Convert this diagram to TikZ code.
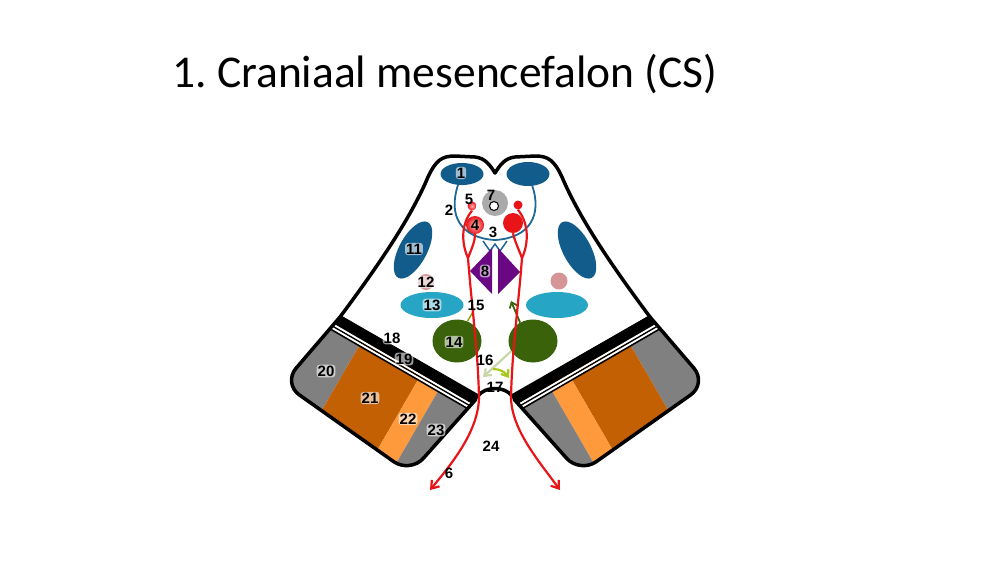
\documentclass[tikz,border=0pt]{standalone}
\usepackage{fontspec}
\setmainfont{Carlito}
\newfontfamily\labelfont{Liberation Sans}
\usetikzlibrary{shapes.geometric}
\usetikzlibrary{arrows.meta}
\definecolor{nucblue}{RGB}{18,92,140}
\definecolor{tractblue}{RGB}{30,105,150}
\definecolor{nuccyan}{RGB}{38,166,196}
\definecolor{nucpink}{RGB}{214,150,152}
\definecolor{nucgreen}{RGB}{58,98,10}
\definecolor{nucpurple}{RGB}{106,8,132}
\definecolor{nucgray}{RGB}{170,170,170}
\definecolor{tractred}{RGB}{232,20,24}
\definecolor{pedgray}{RGB}{128,128,128}
\definecolor{pedorange}{RGB}{196,96,4}
\definecolor{pedlight}{RGB}{255,154,60}
\definecolor{palegreen}{RGB}{200,214,170}
\definecolor{limegreen}{RGB}{168,200,30}
\tikzstyle{lbl}=[font=\labelfont\bfseries\fontsize{15}{15}\selectfont, inner sep=1pt]
\tikzstyle{glow}=[lbl, fill=white, fill opacity=0.6, text opacity=1, rounded corners=3pt]
\tikzstyle{blob}=[ellipse, inner sep=0pt]
\tikzstyle{dot}=[circle, inner sep=0pt]
\tikzstyle{outline}=[draw=black, line width=3.5pt, line join=round]
\tikzstyle{tract}=[tractred, line width=2.2pt]
\newcommand\wingpath{(0,0) [rounded corners=20pt] -- (-16,86) -- (139,100) [rounded corners=4pt] -- (159.5,0) [sharp corners] -- cycle}
\newcommand\mesowing{%
  \begin{scope}[shift={(340,317)}, rotate=-30.1]
    \begin{scope}
      \clip \wingpath;
      \fill[pedgray] (-30,-5) rectangle (31,120);
      \fill[pedorange] (31,-5) rectangle (99,120);
      \fill[pedlight] (99,-5) rectangle (122,120);
      \fill[pedgray] (122,-5) rectangle (180,120);
      \fill[black] (-30,-5) rectangle (180,9);
      \fill[white] (-30,9) rectangle (180,11);
      \fill[black] (-30,11) rectangle (180,12.5);
      \fill[white] (-30,12.5) rectangle (180,14.5);
      \fill[black] (-30,14.5) rectangle (180,16);
    \end{scope}
    \draw[outline] \wingpath;
  \end{scope}}

\begin{document}
\begin{tikzpicture}[x=1pt, y=-1pt]
  \useasboundingbox (0,0) rectangle (1000,563);
  \node[anchor=base west, inner sep=0pt, font=\fontsize{45.5}{50}\selectfont] (title) at (172,87) {1.\ Craniaal mesencefalon (CS)};
  % tectum + tegmentum
  \draw[outline, fill=white] (340,317) .. controls (375,270) and (410,220) .. (428,177)
    .. controls (436,160) and (442,156) .. (455,156) -- (475,157)
    .. controls (485,158) and (490,165) .. (495,173)
    .. controls (500,165) and (505,158) .. (515,157) -- (535,156)
    .. controls (548,156) and (554,160) .. (562,177)
    .. controls (580,220) and (615,270) .. (650,317)
    -- (512,396) .. controls (505,386) and (485,386) .. (478,396) -- cycle;
  % pedunculi
  \mesowing
  \begin{scope}[shift={(990,0)}, xscale=-1]
    \mesowing
  \end{scope}
  % nuclei
  \node[blob, fill=nucblue, minimum width=43pt, minimum height=22pt] (colsupL) at (462,174) {};
  \node[blob, fill=nucblue, minimum width=43pt, minimum height=24pt] (colsupR) at (528,174) {};
  \draw[tractblue, line width=1.8pt] (colsupL.250) .. controls (448,215) and (460,238) .. (495,240)
    .. controls (530,238) and (542,215) .. (colsupR.290);
  \draw[tractblue, line width=1.5pt] (483,241) -- (490,251) -- (495,244) -- (500,251) -- (507,241);
  \node[dot, fill=nucgray, minimum size=26pt] (pag) at (495,203) {};
  \node[dot, draw=black, fill=white, line width=1pt, minimum size=9pt] (aqueduct) at (494,206) {};
  \node[dot, inner color=red!25, outer color=tractred, minimum size=18pt] (rubL) at (475,225) {};
  \node[dot, fill=tractred, minimum size=20pt] (rubR) at (513,223) {};
  \node[dot, inner color=red!30, outer color=tractred, minimum size=9pt] (smallL) at (472,206) {};
  \node[dot, fill=tractred, minimum size=9pt] (smallR) at (518,205) {};
  \fill[nucpurple] (492,248) -- (470,271) -- (492,294) -- cycle;
  \fill[nucpurple] (498,248) -- (520,272) -- (498,294) -- cycle;
  \node[blob, fill=nucblue, minimum width=63pt, minimum height=28pt, rotate=62] (lemL) at (413,250) {};
  \node[blob, fill=nucblue, minimum width=63pt, minimum height=28pt, rotate=-62] (lemR) at (577,250) {};
  \node[dot, fill=nucpink, minimum size=16pt] (pinkL) at (426,282) {};
  \node[dot, fill=nucpink, minimum size=17pt] (pinkR) at (559,281) {};
  \node[blob, fill=nuccyan, minimum width=63pt, minimum height=26pt] (cyanL) at (432,305) {};
  \node[blob, fill=nuccyan, minimum width=62pt, minimum height=26pt] (cyanR) at (557,305) {};
  \node[blob, fill=nucgreen, minimum width=49pt, minimum height=43pt] (tegL) at (457,341) {};
  \node[blob, fill=nucgreen, minimum width=49pt, minimum height=43pt] (tegR) at (533,341) {};
  % small arrows
  \coordinate (tip15) at (474,310);
  \coordinate (tipG) at (511,301);
  \coordinate (tipPale) at (483,377);
  \coordinate (limeA) at (493,369);
  \coordinate (limeB) at (509,378);
  \draw[nucgreen!60!yellow, line width=1.4pt] (tegL.62) -- (tip15);
  \draw[nucgreen, line width=1.8pt, -{Straight Barb[length=5pt,width=8pt]}] (tegR.125) -- (tipG);
  \draw[palegreen, line width=2.2pt, -{Straight Barb[length=6pt,width=9pt]}] (tegR.205) -- (tipPale);
  \draw[limegreen, line width=2.2pt, -{Straight Barb[length=6pt,width=9pt]}] (limeA) .. controls (500,369) and (505,372) .. (limeB);
  % red tracts
  \coordinate (crossL) at (468,258);
  \coordinate (crossR) at (522,258);
  \coordinate (exitL) at (479,398);
  \coordinate (exitR) at (511,398);
  \coordinate (endL) at (430,490);
  \coordinate (endR) at (560,490);
  \draw[tract] (smallL.south) .. controls (460,225) and (462,245) .. (crossL);
  \draw[tract] (rubL.south) .. controls (475,242) and (471,250) .. (crossL);
  \draw[tract, -{Straight Barb[length=7pt,width=10pt]}] (crossL) .. controls (472,310) and (478,350) .. (exitL)
    .. controls (478,430) and (455,460) .. (endL);
  \draw[tract] (smallR.south) .. controls (530,225) and (528,245) .. (crossR);
  \draw[tract] (rubR.south) .. controls (515,242) and (519,250) .. (crossR);
  \draw[tract, -{Straight Barb[length=7pt,width=10pt]}] (crossR) .. controls (518,310) and (512,350) .. (exitR)
    .. controls (512,430) and (538,460) .. (endR);
  % labels
  \node[glow] (l1) at (461,173) {1};
  \node[lbl] (l2) at (449,210) {2};
  \node[lbl] (l3) at (493,232) {3};
  \node[lbl] (l4) at (475,225) {4};
  \node[lbl] (l5) at (469,199) {5};
  \node[lbl] (l6) at (449,473) {6};
  \node[lbl] (l7) at (491,195) {7};
  \node[glow] (l8) at (485,271) {8};
  \node[glow] (l11) at (414,249) {11};
  \node[glow] (l12) at (426,282) {12};
  \node[glow] (l13) at (432,305) {13};
  \node[glow] (l14) at (454,342) {14};
  \node[lbl] (l15) at (476,305) {15};
  \node[lbl] (l16) at (485,360) {16};
  \node[lbl] (l17) at (495,387) {17};
  \node[glow] (l18) at (392,338) {18};
  \node[glow] (l19) at (404,359) {19};
  \node[glow] (l20) at (326,371) {20};
  \node[glow] (l21) at (370,398) {21};
  \node[glow] (l22) at (408,419) {22};
  \node[glow] (l23) at (436,430) {23};
  \node[lbl] (l24) at (491,446) {24};
\end{tikzpicture}
\end{document}
